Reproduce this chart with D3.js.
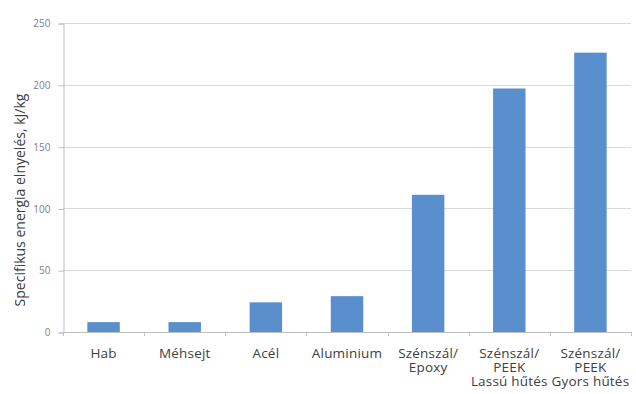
<!DOCTYPE html>
<html>
  <head>
    <meta charset="utf-8">
    <title>Specifikus energia elnyelés</title>
    <style>
      body{ margin:0; background:#fff; }
      svg{ display:block; font-family: "Open Sans", sans-serif; }
      .grid line{ stroke:#d9d9d9; }
      .ytick text{ fill:#808080; font-size:10px; }
      .xlab{ fill:#404040; font-size:13.5px; letter-spacing:0.2px; }
    </style>
  </head>
  <body>
    <svg width="636" height="394"></svg>
  </body>
  <script src="https://d3js.org/d3.v7.min.js"></script>
  <script>
    var categories = [
      ["Hab"],
      ["Méhsejt"],
      ["Acél"],
      ["Aluminium"],
      ["Szénszál/", "Epoxy"],
      ["Szénszál/", "PEEK", "Lassú hűtés"],
      ["Szénszál/", "PEEK", "Gyors hűtés"]
    ]
    var values = [8, 8, 24, 29, 111, 197, 226]
    var yTicks = [0, 50, 100, 150, 200, 250]
    var yTitle = "Specifikus energia elnyelés, kJ/kg"

    var mLeft = 63, mRight = 631, mTop = 23, mBottom = 332
    var svg = d3.select("svg")

    var x = d3.scaleBand().domain(d3.range(categories.length))
      .range([mLeft, mRight]).paddingInner(0.6).paddingOuter(0.3)
    var y = d3.scaleLinear().domain([0, 250]).range([mBottom, mTop])

    // gridlines
    svg.append("g").attr("class","grid").selectAll("line").data(yTicks.slice(1)).enter()
      .append("line").attr("x1", mLeft).attr("x2", mRight)
      .attr("y1", function(d){ return Math.round(y(d)) + 0.5 })
      .attr("y2", function(d){ return Math.round(y(d)) + 0.5 })

    // y axis
    var ya = svg.append("g").attr("transform","translate(" + (mLeft + 0.5) + ",0.5)")
      .call(d3.axisLeft(y).tickValues(yTicks).tickSize(5).tickPadding(8))
    ya.select(".domain").attr("stroke","#bfbfbf")
    ya.selectAll(".tick").attr("class","tick ytick")
    ya.selectAll(".tick line").attr("stroke","#bfbfbf")
    ya.attr("font-family", null).attr("font-size", null)

    // bars
    svg.append("g").selectAll("rect").data(values).enter()
      .append("rect").attr("fill","#5a8fcd")
      .attr("x", function(d,i){ return x(i) })
      .attr("width", x.bandwidth())
      .attr("y", function(d){ return y(d) })
      .attr("height", function(d){ return y(0) - y(d) })

    // x axis line and category ticks
    svg.append("line").attr("x1", mLeft).attr("x2", mRight)
      .attr("y1", mBottom + 0.5).attr("y2", mBottom + 0.5).attr("stroke","#bfbfbf")
    var step = (mRight - mLeft) / categories.length
    svg.append("g").selectAll("line").data(d3.range(categories.length + 1)).enter()
      .append("line").attr("stroke","#bfbfbf")
      .attr("x1", function(i){ return Math.round(mLeft + i*step) + 0.5 })
      .attr("x2", function(i){ return Math.round(mLeft + i*step) + 0.5 })
      .attr("y1", mBottom).attr("y2", mBottom + 4)

    // category labels, one text per line
    var lines = []
    categories.forEach(function(c, i){
      c.forEach(function(s, k){ lines.push({i:i, k:k, s:s}) })
    })
    svg.append("g").selectAll("text").data(lines).enter()
      .append("text").attr("class","xlab").attr("text-anchor","middle")
      .attr("x", function(d){ return x(d.i) + x.bandwidth()/2 })
      .attr("y", function(d){ return 358 + d.k*14 })
      .text(function(d){ return d.s })

    // y title
    svg.append("text").attr("transform","translate(25,200) rotate(-90)")
      .attr("text-anchor","middle").attr("fill","#404040").attr("font-size","14px")
      .text(yTitle)
  </script>
</html>
